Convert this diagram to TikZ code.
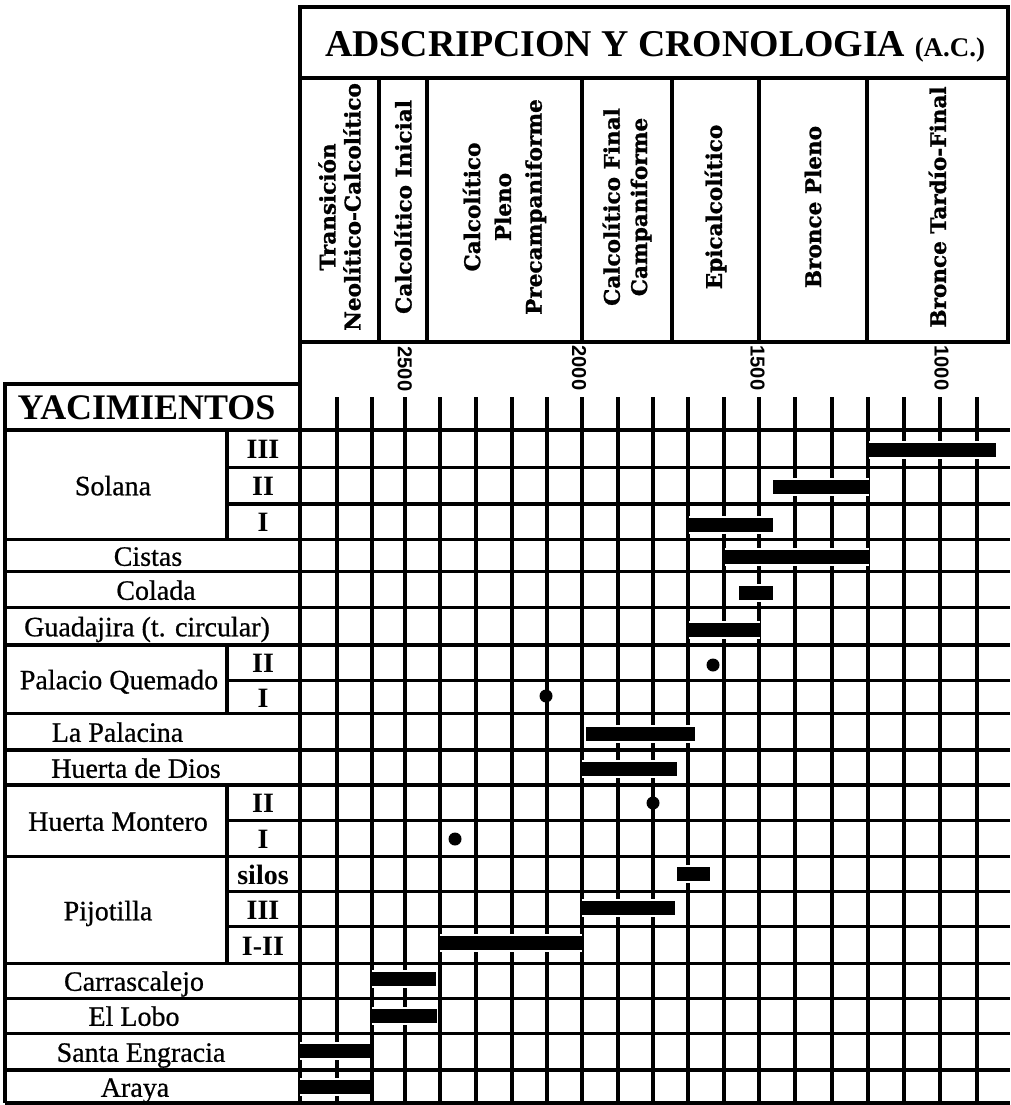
\documentclass[tikz,border=0pt]{standalone}
\usepackage{fontspec}
\setmainfont{Liberation Serif}
\newfontfamily\sitefont{Liberation Serif}[FakeBold=0.7]
\newfontfamily\periodfont{DejaVu Serif}[FakeBold=1.2]
\newfontfamily\yearfont{Liberation Sans}
\usepackage{tikz}

\begin{document}
\begin{tikzpicture}[x=0.03cm, y=-0.03cm, line width=2.8pt,
  every node/.style={inner sep=0pt, outer sep=0pt},
  site/.style={font=\sitefont\fontsize{23.9}{26}\selectfont, text height=15.8pt, text depth=0pt},
  phase/.style={font=\bfseries\fontsize{23.9}{26}\selectfont, text height=16.2pt, text depth=0pt},
  period/.style={rotate=90, align=center, font=\periodfont\bfseries\fontsize{18.4}{21.3}\selectfont},
  year/.style={rotate=-90, font=\yearfont\bfseries\fontsize{17.2}{19}\selectfont},
  bar/.style={fill=black}, halo/.style={fill=white}]
\useasboundingbox (0,0) rectangle (1010,1105);

\node[anchor=west, font=\bfseries\fontsize{32.3}{34}\selectfont, text height=21.8pt, text depth=0pt] (title) at (325,44) {ADSCRIPCION Y CRONOLOGIA {\fontsize{23}{25}\selectfont(A.C.)}};

\node[period] (transicion) at (339.5,207) {Transición\\Neolítico-Calcolítico};
\node[period] (inicial) at (403,207) {Calcolítico Inicial};
\node[period] (pleno) at (504.5,207) {Calcolítico\\[5pt]Pleno\\[5pt]Precampaniforme};
\node[period] (final) at (627,207) {Calcolítico Final\\[2pt]Campaniforme};
\node[period] (epi) at (715.5,207) {Epicalcolítico};
\node[period] (bpleno) at (813,207) {Bronce Pleno};
\node[period] (btardio) at (937.5,207) {Bronce Tardío-Final};

\node[year] (y2500) at (404.7,369) {2500};
\node[year] (y2000) at (579,368) {2000};
\node[year] (y1500) at (757.5,368) {1500};
\node[year] (y1000) at (941.5,368) {1000};

\node[font=\bfseries\fontsize{30.7}{33}\selectfont, text height=20.8pt, text depth=0pt] (yac) at (146.5,407) {YACIMIENTOS};

\node[site] (solana) at (113,486) {Solana};
\node[phase] (sol3) at (263,449.5) {III};
\node[phase] (sol2) at (263,486.5) {II};
\node[phase] (sol1) at (263,522.5) {I};
\node[site] (cistas) at (148,556.5) {Cistas};
\node[site] (colada) at (156,590.5) {Colada};
\node[site] (guadajira) at (147,627) {Guadajira (t. circular)};
\node[site] (palacio) at (119,680) {Palacio Quemado};
\node[phase] (pal2) at (263,663.5) {II};
\node[phase] (pal1) at (263,698) {I};
\node[site] (palacina) at (117.5,732.5) {La Palacina};
\node[site] (hdios) at (136,768.5) {Huerta de Dios};
\node[site] (montero) at (118,821.5) {Huerta Montero};
\node[phase] (mon2) at (263,803.5) {II};
\node[phase] (mon1) at (263,839.5) {I};
\node[site] (pijotilla) at (108,911) {Pijotilla};
\node[phase] (silos) at (263,875) {silos};
\node[phase] (pij3) at (263,910) {III};
\node[phase] (pij12) at (263,946) {I-II};
\node[site] (carrascalejo) at (134,981.5) {Carrascalejo};
\node[site] (lobo) at (134,1016.5) {El Lobo};
\node[site] (engracia) at (141,1052.5) {Santa Engracia};
\node[site] (araya) at (135,1087.5) {Araya};

\draw (300,7) rectangle (1008,342);
\draw (300,78) -- (1008,78);
\foreach \x in {379,427,582,672,759,867}
  \draw (\x,78) -- (\x,342);

\draw (5,384) rectangle (300,430);
\draw (5,430) -- (5,1103);
\draw (300,342) -- (300,1103);
\draw (227,430) -- (227,539.3);
\draw (227,645) -- (227,713.3);
\draw (227,785) -- (227,963.3);
\foreach \x in {337,372,405,440,476,512,547,582,618,653,688,724,759,795,832,868,904,940,977}
  \draw (\x,397) -- (\x,1103);
\foreach \y in {430,539.3,571.7,607.7,645,713.3,750,785,856.7,963.3,998.3,1033.3,1070,1103}
  \draw (5,\y) -- (1010,\y);
\foreach \y in {467.3,504,680.7,820.7,891.7,926.7}
  \draw (227,\y) -- (1010,\y);

\foreach \a/\b/\c in {869/996/450, 773/869/486.5, 689/773/524.5, 725/869/557, 738.5/773/593.3, 689/760/630, 586/695/733.5, 582/677/768.5, 676.5/710/874.2, 582/675/908, 440/582/942.7, 372/436/979, 372/437/1015.5, 300/370/1051, 300/370/1087} {
  \fill[halo] (\a,\c-9) rectangle (\b,\c+9);
  \fill[bar] (\a,\c-7) rectangle (\b,\c+7);
}

\fill (713,665) circle (6.5);
\fill (546,696) circle (6.5);
\fill (653,803) circle (6.5);
\fill (455,839) circle (6.5);
\end{tikzpicture}
\end{document}
